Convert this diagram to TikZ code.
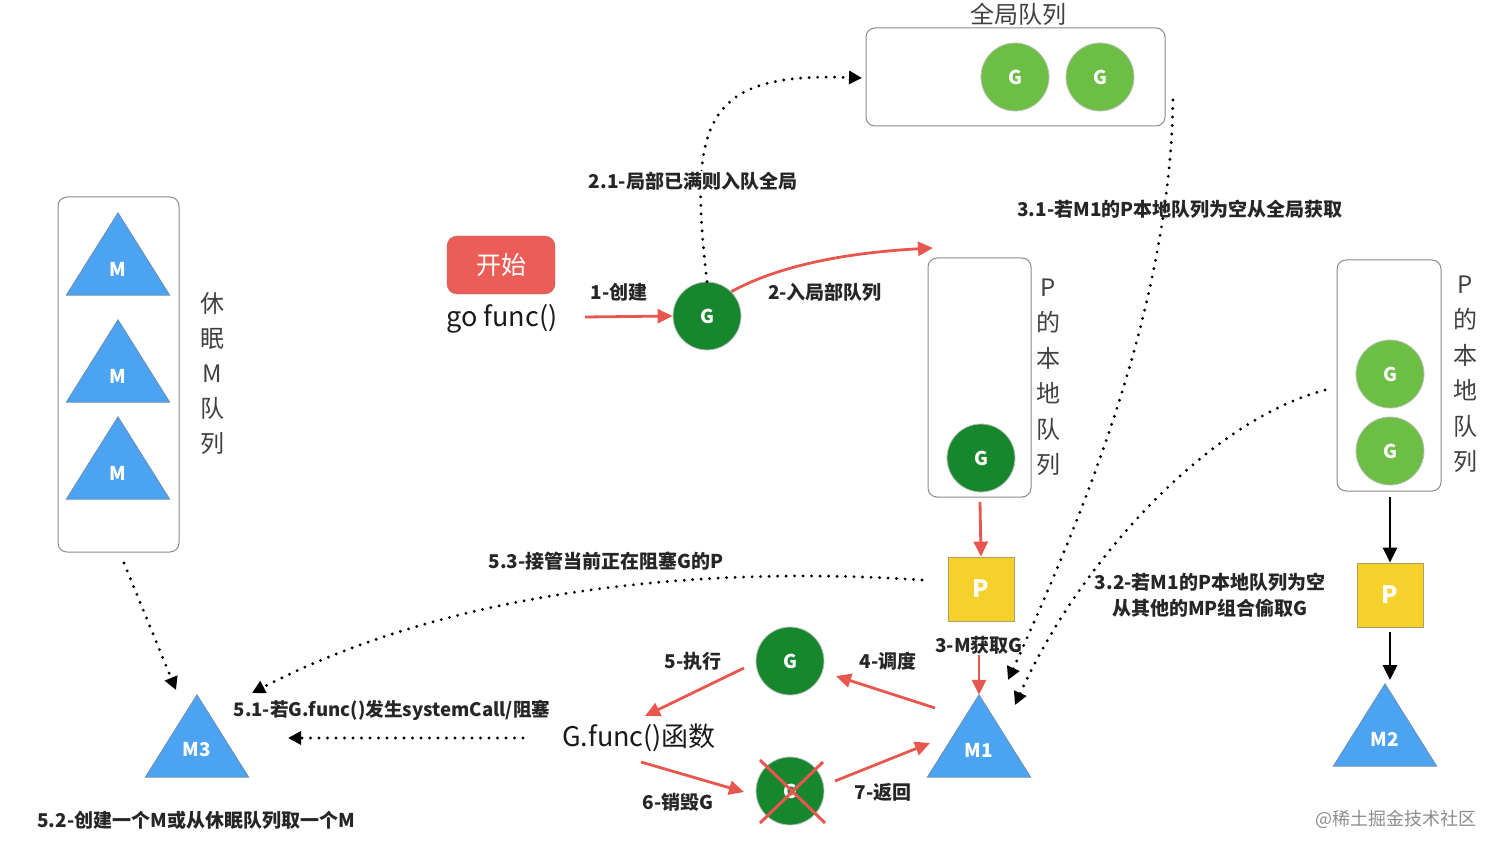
\documentclass[tikz,border=0pt]{standalone}
\usepackage{fontspec}
\setmainfont{Noto Sans CJK SC}
\usetikzlibrary{arrows.meta,calc}
\definecolor{gdark}{HTML}{17872D}
\definecolor{glight}{HTML}{6CBE45}
\definecolor{mblue}{HTML}{4CA3F2}
\definecolor{pyel}{HTML}{F6D12B}
\definecolor{ared}{HTML}{E8574F}
\definecolor{bgray}{HTML}{8A8A8A}
\definecolor{startred}{HTML}{EB5D56}
\newcommand\myfs[2]{\fontsize{#1}{#2}\selectfont}
\begin{document}
\begin{tikzpicture}[x=1pt,y=-1pt,
  qbox/.style={draw=bgray, rounded corners=9pt, line width=1pt},
  gnode/.style={circle, minimum size=68pt, inner sep=0pt, draw=gray!50, line width=0.8pt, font=\bfseries\myfs{19}{19}, text=white},
  gd/.style={gnode, fill=gdark},
  gl/.style={gnode, fill=glight},
  pnode/.style={rectangle, minimum width=66pt, minimum height=64pt, inner sep=0pt, fill=pyel, draw=gray!60!pyel, line width=0.8pt, text=white, font=\bfseries\myfs{24}{24}},
  mbox/.style={rectangle, minimum width=103pt, minimum height=82pt, inner sep=0pt},
  mtri/.style={fill=mblue, draw=gray!60!mblue, line width=0.8pt},
  mtext/.style={text=white, font=\bfseries\myfs{19}{19}},
  lbl/.style={font=\bfseries\myfs{19}{19}, text=black!85, inner sep=1pt},
  vtext/.style={font=\myfs{24}{35.5}, text=black!75, align=center},
  redarr/.style={draw=ared, line width=2.8pt, -{Triangle[length=15pt,width=14pt]}},
  blkarr/.style={draw=black, line width=2.8pt, -{Triangle[length=15pt,width=14pt]}},
  dotarr/.style={line width=3.2pt, dash pattern=on 0pt off 8.5pt, line cap=round, -{Triangle[length=13pt,width=13pt]}}
]
\useasboundingbox (0,0) rectangle (1500,853);

% global queue
\draw[qbox] (866,28) rectangle (1165,126);
\node[font=\myfs{24}{24}, text=black!75] (gqtitle) at (1018,14) {全局队列};
\node[gl] (GQ1) at (1015,77) {G};
\node[gl] (GQ2) at (1100,77) {G};
\coordinate (gqin) at (862,78);
\coordinate (gqout) at (1173,100);

% start
\node[fill=startred, draw=gray!60!startred, rounded corners=10pt, minimum width=108pt, minimum height=58pt, text=white, font=\myfs{25}{25}] (start) at (501,265) {开始};
\node[font=\myfs{27}{27}, text=black!90] (gofunc) at (502,319) {go func()};

% G created
\node[gd] (G1) at (707,316) {G};
\coordinate (c1s) at (585,317);
\draw[redarr] (c1s) -- (G1.west);
\node[lbl] at (619,292) {1-创建};

% local queue 1
\draw[qbox] (928,258) rectangle (1031,497);
\coordinate (lq1top) at (933,248);
\node[gd] (GL1) at (981,458) {G};
\node[vtext] at (1048,377) {P\\的\\本\\地\\队\\列};

% 2 arrow
\draw[redarr] (G1.north east) .. controls (785,262) and (860,252) .. (lq1top);
\node[lbl] at (825,292) {2-入局部队列};

% 2.1 dotted
\draw[dotarr] (G1.north) .. controls (688,120) and (705,72) .. (gqin);
\node[lbl, fill=white] at (693,181) {2.1-局部已满则入队全局};

% P1
\node[pnode] (P1) at (981,589) {P};
\draw[redarr] (980,502) -- (P1.north);

% M1
\node[mbox] (M1) at (979,736) {};
\draw[mtri] (M1.south west) -- (M1.north) -- (M1.south east) -- cycle;
\node[mtext] at (979,750) {M1};
\node[lbl] (l3) at (979,645) {3-M获取G};
\draw[redarr] (l3.south) -- (M1.north);

% 3.1 dotted
\coordinate (m1a) at (1008,680);
\draw[dotarr] (gqout) .. controls (1170,300) and (1090,500) .. (m1a);
\node[lbl] at (1180,209) {3.1-若M1的P本地队列为空从全局获取};

% local queue 2
\draw[qbox] (1337,260) rectangle (1441,491);
\node[gl] (GR1) at (1390,374) {G};
\node[gl] (GR2) at (1390,451) {G};
\node[vtext] at (1465,374) {P\\的\\本\\地\\队\\列};
\node[pnode] (P2) at (1390,595) {P};
\draw[blkarr] (1390,497) -- (P2.north);
\node[mbox] (M2) at (1385,725) {};
\draw[mtri] (M2.south west) -- (M2.north) -- (M2.south east) -- cycle;
\node[mtext] at (1385,739) {M2};
\draw[blkarr] (1390,632) -- (1390,680);

% 3.2 dotted
\coordinate (lq2left) at (1325,390);
\coordinate (m1b) at (1015,705);
\draw[dotarr] (lq2left) .. controls (1210,420) and (1080,560) .. (m1b);
\node[lbl, align=center, font=\bfseries\myfs{19}{26}] at (1210,595) {3.2-若M1的P本地队列为空\\从其他的MP组合偷取G};

% sleeping M queue
\draw[qbox] (58,197) rectangle (179,552);
\foreach \i/\yy in {a/254, b/361, c/458} {
  \node[mbox] (MS\i) at (118,\yy) {};
  \draw[mtri] (MS\i.south west) -- (MS\i.north) -- (MS\i.south east) -- cycle;
  \node[mtext] at (118,\yy+15) {M};
}
\node[vtext, font=\myfs{24}{35}] at (212,374) {休\\眠\\M\\队\\列};

% M3
\node[mbox] (M3) at (197,736) {};
\draw[mtri] (M3.south west) -- (M3.north) -- (M3.south east) -- cycle;
\node[mtext] at (197,750) {M3};
\coordinate (msq) at (124,563);
\coordinate (m3a) at (176,690);
\draw[dotarr] (msq) -- (m3a);
\node[lbl] at (196,820) {5.2-创建一个M或从休眠队列取一个M};

% 5.3 dotted
\coordinate (p1left) at (922,580);
\coordinate (m3b) at (252,693);
\draw[dotarr] (p1left) .. controls (700,565) and (450,590) .. (m3b);
\node[lbl] at (606,561) {5.3-接管当前正在阻塞G的P};

% 5.1
\node[lbl, font=\bfseries\myfs{18.6}{19}] at (392,710) {5.1-若G.func()发生systemCall/阻塞};
\coordinate (d51s) at (523,738);
\coordinate (d51e) at (288,738);
\draw[dotarr] (d51s) -- (d51e);

% G.func
\node[font=\myfs{27}{27}, text=black!90] (gf) at (639,738) {G.func()函数};

% running G
\node[gd] (G2) at (790,661) {G};
\draw[redarr] (935,708) -- (836,676);
\node[lbl] at (888,661) {4-调度};
\draw[redarr] (744,668) -- (645,716);
\node[lbl] at (693,661) {5-执行};

% destroyed G
\node[gd] (G3) at (790,791) {G};
\draw[redarr] (641,762) -- (744,792);
\node[lbl] at (678,802) {6-销毁G};
\draw[draw=ared, line width=3pt] (760,760) -- (825,823);
\draw[draw=ared, line width=3pt] (823,762) -- (760,823);
\draw[redarr] (835,781) -- (930,743);
\node[lbl] at (883,792) {7-返回};

% watermark
\node[font=\myfs{18}{18}, text=black!45] at (1396,819) {@稀土掘金技术社区};
\end{tikzpicture}
\end{document}
